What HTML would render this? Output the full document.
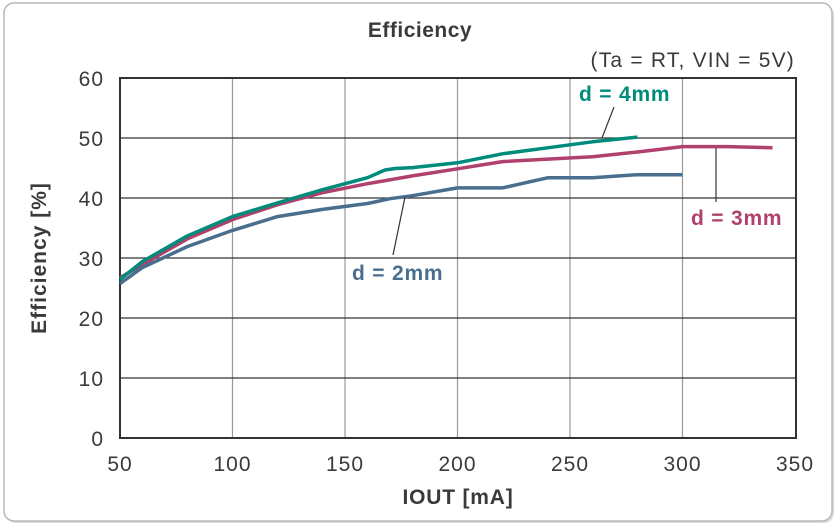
<!DOCTYPE html>
<html><head><meta charset="utf-8"><style>
html,body{margin:0;padding:0;background:#fff;}
svg{display:block;font-family:"Liberation Sans",sans-serif;}
</style></head><body>
<svg width="840" height="530" viewBox="0 0 840 530">
<rect x="6" y="5" width="828" height="518" rx="10" fill="#ddd"/>
<rect x="4" y="3" width="828" height="518" rx="10" fill="#fff" stroke="#b8b8b8" stroke-width="1.5"/>
<text x="420" y="37" text-anchor="middle" font-size="21" font-weight="bold" fill="#3a3a3a" letter-spacing="0.5">Efficiency</text>
<text x="795" y="67" text-anchor="end" font-size="21" fill="#3a3a3a" letter-spacing="1.2">(Ta = RT, VIN = 5V)</text>
<g stroke="#9a9a9a" stroke-width="1.2">
<line x1="232.5" y1="78" x2="232.5" y2="438"/><line x1="345" y1="78" x2="345" y2="438"/>
<line x1="457.5" y1="78" x2="457.5" y2="438"/><line x1="570" y1="78" x2="570" y2="438"/>
<line x1="682.5" y1="78" x2="682.5" y2="438"/>
</g>
<g stroke="#333" stroke-width="1.2">
<line x1="120" y1="138" x2="796" y2="138"/><line x1="120" y1="198" x2="796" y2="198"/>
<line x1="120" y1="258" x2="796" y2="258"/><line x1="120" y1="318" x2="796" y2="318"/>
<line x1="120" y1="378" x2="796" y2="378"/>
</g>
<rect x="120" y="78" width="676" height="360" fill="none" stroke="#333" stroke-width="2"/>
<g font-size="21" fill="#3a3a3a" text-anchor="end" letter-spacing="1">
<text x="104" y="86">60</text><text x="104" y="146">50</text><text x="104" y="206">40</text>
<text x="104" y="266">30</text><text x="104" y="326">20</text><text x="104" y="386">10</text><text x="104" y="446">0</text>
</g>
<g font-size="21" fill="#3a3a3a" text-anchor="middle" letter-spacing="1">
<text x="120" y="471">50</text><text x="232.5" y="471">100</text><text x="345" y="471">150</text>
<text x="457.5" y="471">200</text><text x="570" y="471">250</text><text x="682.5" y="471">300</text><text x="795" y="471">350</text>
</g>
<text x="458" y="504" text-anchor="middle" font-size="21" font-weight="bold" fill="#3a3a3a" letter-spacing="0.8">IOUT [mA]</text>
<text transform="translate(46,258) rotate(-90)" text-anchor="middle" font-size="21" font-weight="bold" fill="#3a3a3a" letter-spacing="1">Efficiency [%]</text>
<g fill="none" stroke-width="3.5" stroke-linejoin="round">
<polyline stroke="#b0416d" points="120,277.7 142.5,264.5 187.5,238.8 232.5,219.6 277.5,204.7 322.5,192.7 367.5,183.7 412.5,175.9 457.5,168.8 502.5,161.6 592.5,156.8 637.5,152 682.5,146.6 727.5,146.6 772.5,147.8"/>
<polyline stroke="#4a6e8e" points="120,283.6 142.5,267.5 187.5,246.5 232.5,230.4 277.5,216.6 322.5,209.4 367.5,203.5 390,198.7 412.5,195.7 457.5,187.9 502.5,187.9 547.5,177.8 592.5,177.8 637.5,174.7 682.5,174.7"/>
<polyline stroke="#008b7b" points="120,279.4 142.5,261.5 187.5,235.8 232.5,216.6 277.5,202.9 322.5,189.7 367.5,177.7 385,170 395,168.5 412.5,167.6 457.5,162.8 502.5,153.8 547.5,147.8 592.5,141.8 637.5,137.1"/>
</g>
<g stroke="#333" stroke-width="1.2">
<line x1="602" y1="138" x2="614" y2="107"/>
<line x1="716" y1="148" x2="716" y2="202"/>
<line x1="405" y1="197" x2="393" y2="255"/>
</g>
<g font-size="21" font-weight="bold" letter-spacing="0.8">
<text x="579" y="101" fill="#008b7b">d = 4mm</text>
<text x="691" y="225" fill="#b0416d">d = 3mm</text>
<text x="352" y="280" fill="#4a6e8e">d = 2mm</text>
</g>
</svg>
</body></html>
